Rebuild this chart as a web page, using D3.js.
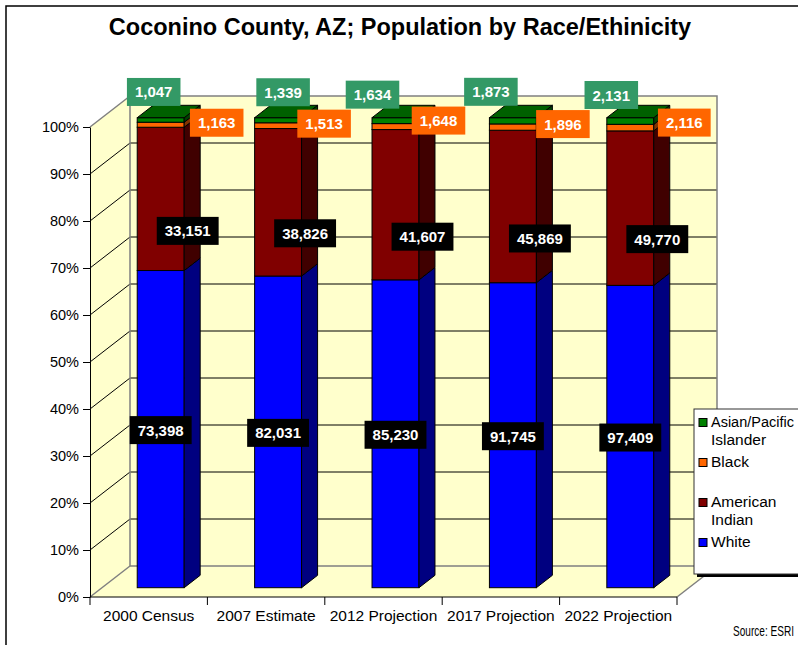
<!DOCTYPE html>
<html>
<head>
<meta charset="utf-8">
<script src="https://cdn.jsdelivr.net/npm/d3@7"></script>
<style>
  body { margin: 0; background: #fff; }
  svg { display: block; font-family: Arial, "Liberation Sans", sans-serif; }
</style>
</head>
<body>
<svg id="chart" width="798" height="645"></svg>
<script>
// Population counts by race/ethnicity, Coconino County, AZ
const categories = ["2000 Census", "2007 Estimate", "2012 Projection", "2017 Projection", "2022 Projection"];
const seriesNames = ["White", "American Indian", "Black", "Asian/Pacific Islander"];
const white = [73398, 82031, 85230, 91745, 97409];
const americanIndian = [33151, 38826, 41607, 45869, 49770];
const black = [1163, 1513, 1648, 1896, 2116];
const asianPacific = [1047, 1339, 1634, 1873, 2131];
const yTicks = [0, 0.1, 0.2, 0.3, 0.4, 0.5, 0.6, 0.7, 0.8, 0.9, 1];

const seriesValues = [white, americanIndian, black, asianPacific];
const rows = categories.map((c, i) => {
  const r = { category: c };
  seriesNames.forEach((s, k) => { r[s] = seriesValues[k][i]; });
  return r;
});

// colours per series: front face; side and top faces are shaded from it
const baseColor = {
  "White": "#0000FF",
  "American Indian": "#800000",
  "Black": "#FF6600",
  "Asian/Pacific Islander": "#008000"
};
const shade = (c, f) => { const q = d3.rgb(c); return d3.rgb(q.r * f, q.g * f, q.b * f).formatHex(); };

// value-label styling per series
const labelFill = {
  "White": "#000000",
  "American Indian": "#000000",
  "Black": "#FF6600",
  "Asian/Pacific Islander": "#339966"
};
// label offsets from the centre of each segment's front face
const labelShift = {
  "White": { dx: [0, 0, 0, 0, 0], dy: [1, 1, 1, 1, 1] },
  "American Indian": { dx: [27, 27, 27, 27, 27], dy: [32, 31, 32, 32, 31] },
  "Black": { dx: [56, 46, 43, 50, 54], dy: [-2, -2, -6, -3, -5] },
  "Asian/Pacific Islander": { dx: [-7, 5, -23, -22, -19], dy: [-28, -28, -26, -29, -26] }
};

const svg = d3.select("#chart");

// chart frame
svg.append("rect").attr("x", 6).attr("y", 6).attr("width", 1000).attr("height", 1000)
  .attr("fill", "#fff").attr("stroke", "#000").attr("stroke-width", 1.5);

// title
svg.append("text").attr("x", 400).attr("y", 35).attr("text-anchor", "middle")
  .attr("font-size", 23.5).attr("font-weight", "bold").attr("fill", "#000")
  .text("Coconino County, AZ; Population by Race/Ethinicity");

// 3D plot geometry: front plane and depth vector
const X0 = 90, X1 = 677, Y0 = 597, Y1 = 127, DX = 40, DY = -31;
const x = d3.scaleBand().domain(categories).range([X0, X1]).paddingInner(0.6).paddingOuter(0.3);
const y = d3.scaleLinear().domain([0, 1]).range([Y0, Y1]);
const P = (sx, sy, d) => [sx + d * DX, sy + d * DY];
const pts = arr => arr.map(p => p.join(",")).join(" ");

const wallFill = "#FFFFCC", wallLine = "#808080";
const g = svg.append("g");

// walls and floor
g.append("polygon").attr("points", pts([[X0, Y0], [X0, Y1], P(X0, Y1, 1), P(X0, Y0, 1)]))
  .attr("fill", wallFill).attr("stroke", "none");
g.append("polygon").attr("points", pts([P(X0, Y1, 1), P(X1, Y1, 1), P(X1, Y0, 1), P(X0, Y0, 1)]))
  .attr("fill", wallFill).attr("stroke", "none");
g.append("polygon").attr("points", pts([[X0, Y0], [X1, Y0], P(X1, Y0, 1), P(X0, Y0, 1)]))
  .attr("fill", wallFill).attr("stroke", "none");

// gridlines across side and back walls
const inner = yTicks.filter(t => t > 0 && t < 1);
g.selectAll("line.gs").data(inner).join("line")
  .attr("x1", X0).attr("y1", d => y(d))
  .attr("x2", X0 + DX).attr("y2", d => y(d) + DY)
  .attr("stroke", "#000").attr("stroke-width", 1);
g.selectAll("line.gb").data(inner).join("line")
  .attr("x1", X0 + DX).attr("y1", d => y(d) + DY)
  .attr("x2", X1 + DX).attr("y2", d => y(d) + DY)
  .attr("stroke", "#000").attr("stroke-width", 1);

// wall outlines
g.append("polyline").attr("points", pts([P(X0, Y0, 1), P(X0, Y1, 1), P(X1, Y1, 1), P(X1, Y0, 1), P(X0, Y0, 1)]))
  .attr("fill", "none").attr("stroke", wallLine).attr("stroke-width", 1.5);
g.append("line").attr("x1", X0).attr("y1", Y1).attr("x2", X0 + DX).attr("y2", Y1 + DY)
  .attr("stroke", wallLine).attr("stroke-width", 1.5);
g.append("line").attr("x1", X0).attr("y1", Y0).attr("x2", X0 + DX).attr("y2", Y0 + DY)
  .attr("stroke", wallLine).attr("stroke-width", 1.5);
g.append("line").attr("x1", X1).attr("y1", Y0).attr("x2", X1 + DX).attr("y2", Y0 + DY)
  .attr("stroke", wallLine).attr("stroke-width", 1.5);

// y axis on the front-left edge
const yAxis = d3.axisLeft(y).tickValues(yTicks).tickFormat(d3.format(".0%"))
  .tickSize(7).tickSizeOuter(0).tickPadding(4);
const ya = svg.append("g").attr("transform", `translate(${X0},0)`).call(yAxis);
ya.selectAll("text").attr("font-size", 14.5).attr("fill", "#000")
  .attr("font-family", 'Arial, "Liberation Sans", sans-serif');
ya.selectAll("line,path").attr("stroke", "#000");

// x axis along the front floor edge
const step = x.step();
const xa = svg.append("g");
xa.append("line").attr("x1", X0).attr("x2", X1).attr("y1", Y0).attr("y2", Y0).attr("stroke", "#000");
xa.selectAll("line.tk").data(d3.range(categories.length + 1)).join("line")
  .attr("x1", i => X0 + i * step).attr("x2", i => X0 + i * step)
  .attr("y1", Y0).attr("y2", Y0 + 8).attr("stroke", "#000");
xa.selectAll("text").data(categories).join("text")
  .attr("x", d => x(d) + x.bandwidth() / 2).attr("y", 621)
  .attr("text-anchor", "middle").attr("font-size", 15.5).attr("fill", "#000")
  .text(d => d);

// stacked 100% bars
const stacked = d3.stack().keys(seriesNames).offset(d3.stackOffsetExpand)(rows);
const bw = x.bandwidth();
const dF = 0.3, dB = 0.7; // bar depth span within the plot
const bars = svg.append("g");
categories.forEach((c, i) => {
  const xl = x(c), xr = x(c) + bw;
  stacked.forEach(layer => {
    const col = baseColor[layer.key];
    const v0 = layer[i][0], v1 = layer[i][1];
    const a = P(xl, y(v1), dF), b = P(xr, y(v0), dF);
    bars.append("rect").attr("x", a[0]).attr("y", a[1])
      .attr("width", b[0] - a[0]).attr("height", b[1] - a[1])
      .attr("fill", col).attr("stroke", "#000").attr("stroke-width", 1);
    bars.append("polygon")
      .attr("points", pts([P(xr, y(v0), dF), P(xr, y(v1), dF), P(xr, y(v1), dB), P(xr, y(v0), dB)]))
      .attr("fill", shade(col, 0.5)).attr("stroke", "#000").attr("stroke-width", 1);
  });
  const topLayer = stacked[stacked.length - 1];
  const tv = topLayer[i][1];
  bars.append("polygon")
    .attr("points", pts([P(xl, y(tv), dF), P(xr, y(tv), dF), P(xr, y(tv), dB), P(xl, y(tv), dB)]))
    .attr("fill", shade(baseColor[topLayer.key], 0.75)).attr("stroke", "#000").attr("stroke-width", 1);
});

// value labels
const fmt = d3.format(",");
const labels = svg.append("g");
stacked.forEach(layer => {
  categories.forEach((c, i) => {
    const v0 = layer[i][0], v1 = layer[i][1];
    const ctr = P(x(c) + bw / 2, (y(v0) + y(v1)) / 2, dF);
    const sh = labelShift[layer.key];
    const cx = ctr[0] + sh.dx[i], cy = ctr[1] + sh.dy[i];
    const lg = labels.append("g");
    const box = lg.append("rect").attr("fill", labelFill[layer.key]);
    const t = lg.append("text").attr("x", cx).attr("y", cy + 5.5)
      .attr("text-anchor", "middle").attr("font-size", 15).attr("font-weight", "bold")
      .attr("fill", "#fff").text(fmt(layer[i].data[layer.key]));
    const w = t.node().getComputedTextLength() + 16;
    box.attr("x", cx - w / 2).attr("y", cy - 14).attr("width", w).attr("height", 28);
  });
});

// legend
const legendItems = seriesNames.slice().reverse();
const lgd = svg.append("g");
lgd.append("rect").attr("x", 697).attr("y", 412).attr("width", 120).attr("height", 165).attr("fill", "#000");
lgd.append("rect").attr("x", 694).attr("y", 409).attr("width", 120).attr("height", 165)
  .attr("fill", "#fff").attr("stroke", "#333").attr("stroke-width", 1);
const legendTextX = 711, legendMaxRight = 794, legendFont = 15.5;
legendItems.forEach((name, i) => {
  const base = 427 + i * 40;
  lgd.append("rect").attr("x", 699).attr("y", base - 8.5).attr("width", 8).attr("height", 8)
    .attr("fill", baseColor[name]).attr("stroke", "#000").attr("stroke-width", 1);
  name.split(" ").forEach((line, j) => {
    const t = lgd.append("text").attr("x", legendTextX).attr("y", base + j * 17.5)
      .attr("font-size", legendFont).attr("fill", "#000").text(line);
    const w = t.node().getComputedTextLength();
    // shrink a long line so it stays inside the page
    if (legendTextX + w > legendMaxRight) {
      t.attr("font-size", legendFont * (legendMaxRight - legendTextX) / w);
    }
  });
});

// source note
svg.append("text").attr("transform", "translate(733,636) scale(0.72,1)")
  .attr("font-size", 14).attr("fill", "#000").text("Source: ESRI");
</script>
</body>
</html>
